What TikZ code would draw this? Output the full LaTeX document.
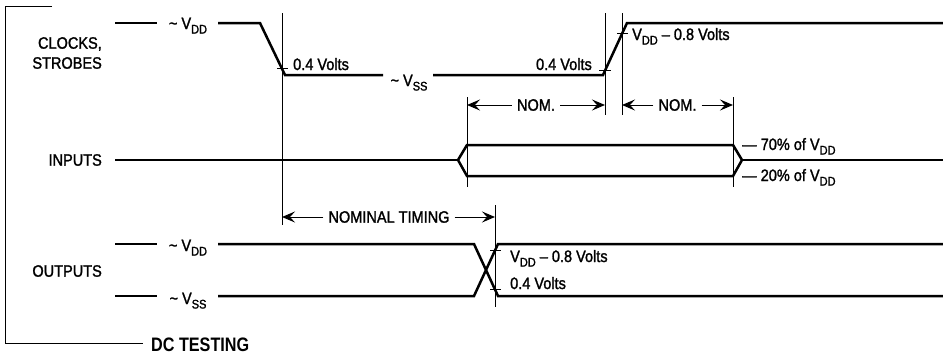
\documentclass[tikz,border=0pt]{standalone}
\usepackage{fontspec}
\setmainfont{Liberation Sans}[FakeStretch=0.88,FakeBold=1.5]
\newfontfamily\dcfont{Liberation Sans}[FakeStretch=0.83]
\usetikzlibrary{arrows.meta}
\newcommand\sbs[1]{\raisebox{-4.5pt}{\fontsize{12.5}{13}\selectfont #1}}
\newcommand\tld{\textasciitilde}
\begin{document}
\begin{tikzpicture}[x=1pt,y=-1pt,
  sig/.style={line width=2.5pt},
  thinln/.style={line width=1pt},
  dimarrow/.style={line width=1pt,-{Stealth[length=13pt,width=11pt,inset=5pt]}},
  lbl/.style={inner sep=0pt,font=\fontsize{16.5}{20}\selectfont}]
\useasboundingbox (0,0) rectangle (943,354);
% bracket
\coordinate (bt) at (52,6);
\coordinate (bb) at (143,343);
\draw[thinln] (bt) -- (5,6) -- (5,343) -- (bb);
\node[anchor=base west,inner sep=0pt,font=\dcfont\bfseries\fontsize{19.5}{22}\selectfont] (dc) at (151,351) {DC TESTING};
% row labels
\node[lbl,anchor=east,align=right] (clk) at (102,53) {CLOCKS,\\STROBES};
\node[lbl,anchor=east] (inp) at (102,160) {INPUTS};
\node[lbl,anchor=east] (outp) at (102,271) {OUTPUTS};
% clocks
\node[lbl,anchor=base] (cvdd) at (188,29) {\tld\ V\sbs{DD}};
\node[lbl,anchor=base] (cvss) at (409,86) {\tld\ V\sbs{SS}};
\draw[sig] (115,23) -- (157,23);
\draw[sig] (218,23) -- (260,23) -- (285,75) -- (383,75);
\draw[sig] (433,75) -- (603,75) -- (627,23) -- (943,23);
\draw[thinln] (282,13) -- (282,225);
\draw[thinln] (605,13) -- (605,115);
\draw[thinln] (622,13) -- (622,115);
\draw[thinln] (277,68.8) -- (288,68.8);
\draw[thinln] (599,70.7) -- (611,70.7);
\draw[thinln] (617,33.8) -- (628,33.8);
\node[lbl,anchor=base west] (f04) at (293,70) {0.4 Volts};
\node[lbl,anchor=base east] (r04) at (592,70) {0.4 Volts};
\node[lbl,anchor=base west] (rvdd) at (632,40) {V\sbs{DD} -- 0.8 Volts};
% NOM
\draw[thinln] (467,97) -- (467,187);
\draw[thinln] (733,97) -- (733,187);
\node[lbl] (nom1) at (536,105) {NOM.};
\node[lbl] (nom2) at (677.5,105) {NOM.};
\coordinate (n1l) at (467,105);
\coordinate (n1r) at (605,105);
\coordinate (n2l) at (622,105);
\coordinate (n2r) at (733,105);
\draw[dimarrow] ([xshift=-5pt]nom1.west) -- (n1l);
\draw[dimarrow] ([xshift=5pt]nom1.east) -- (n1r);
\draw[dimarrow] ([xshift=-5pt]nom2.west) -- (n2l);
\draw[dimarrow] ([xshift=5pt]nom2.east) -- (n2r);
% inputs
\draw[sig] (115,160) -- (458,160);
\draw[sig,line join=miter] (458,160) -- (467,145) -- (733,145) -- (742,160) -- (733,176) -- (467,176) -- cycle;
\draw[sig] (742,160) -- (943,160);
\node[lbl,anchor=base west] (p70) at (742,150) {--- 70\% of V\sbs{DD}};
\node[lbl,anchor=base west] (p20) at (742,181) {--- 20\% of V\sbs{DD}};
% nominal timing
\draw[thinln] (495,205) -- (495,307);
\node[lbl] (nt) at (389,217) {NOMINAL TIMING};
\coordinate (ntl) at (282,217);
\coordinate (ntr) at (495,217);
\draw[dimarrow] ([xshift=-5pt]nt.west) -- (ntl);
\draw[dimarrow] ([xshift=5pt]nt.east) -- (ntr);
% outputs
\node[lbl,anchor=base] (ovdd) at (188,251) {\tld\ V\sbs{DD}};
\node[lbl,anchor=base] (ovss) at (188,304) {\tld\ V\sbs{SS}};
\draw[sig] (115,244) -- (157,244);
\draw[sig] (218,244) -- (474,244) -- (498,296) -- (943,296);
\draw[sig] (115,296) -- (157,296);
\draw[sig] (218,296) -- (474,296) -- (498,244) -- (943,244);
\draw[thinln] (490,250.5) -- (501,250.5);
\draw[thinln] (490,289.5) -- (501,289.5);
\node[lbl,anchor=base west] (ovdd8) at (510,262) {V\sbs{DD} -- 0.8 Volts};
\node[lbl,anchor=base west] (o04) at (510,289) {0.4 Volts};
\end{tikzpicture}
\end{document}
